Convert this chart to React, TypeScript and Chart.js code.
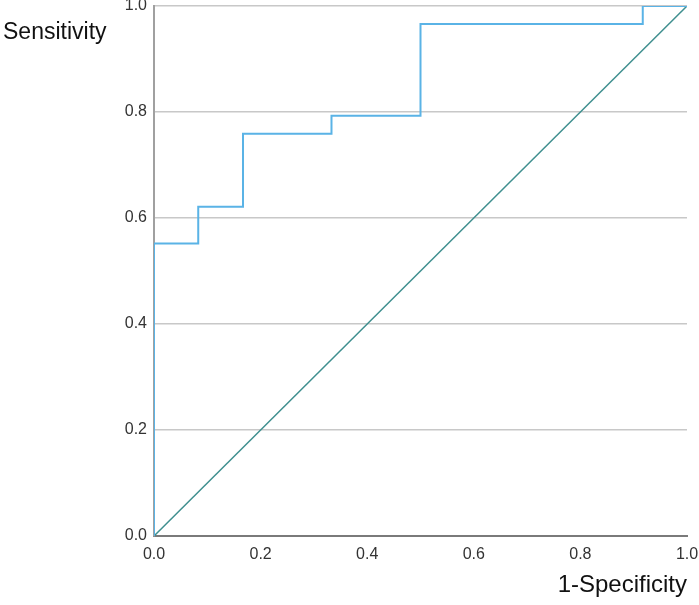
import { useEffect, useRef } from "react"
import { Chart, registerables } from "chart.js"

Chart.register(...registerables)

// ROC curve vertices (1-specificity, sensitivity)
const fpr = [0, 0, 0.083, 0.083, 0.167, 0.167, 0.333, 0.333, 0.5, 0.5, 0.917, 0.917, 1]
const tpr = [0, 0.552, 0.552, 0.621, 0.621, 0.759, 0.759, 0.793, 0.793, 0.966, 0.966, 1, 1]
// reference line
const refX = [0, 1]
const refY = [0, 1]
const tickValues = [0, 0.2, 0.4, 0.6, 0.8, 1.0]

const FONT = "'Liberation Sans', Arial, sans-serif"

const yTitlePlugin = {
  id: "yTitle",
  afterDraw(chart: Chart) {
    const ctx = chart.ctx
    ctx.save()
    ctx.font = `23px ${FONT}`
    ctx.fillStyle = "#111"
    ctx.textBaseline = "alphabetic"
    ctx.textAlign = "left"
    ctx.fillText("Sensitivity", 3, 39)
    ctx.restore()
  },
}

export default function App() {
  const chartRef = useRef<HTMLCanvasElement>(null)
  const chartInstance = useRef<Chart | null>(null)

  useEffect(() => {
    document.body.style.margin = "0"
    if (!chartRef.current) return
    if (chartInstance.current) chartInstance.current.destroy()
    const ctx = chartRef.current.getContext("2d")
    if (!ctx) return

    chartInstance.current = new Chart(ctx, {
      type: "line",
      data: {
        datasets: [
          {
            label: "ROC",
            data: fpr.map((x, i) => ({ x, y: tpr[i] })),
            borderColor: "#5ab3e6",
            borderWidth: 2,
            pointRadius: 0,
            fill: false,
            tension: 0,
          },
          {
            label: "Reference",
            data: refX.map((x, i) => ({ x, y: refY[i] })),
            borderColor: "#3f8f8f",
            borderWidth: 1.5,
            pointRadius: 0,
            fill: false,
          },
        ],
      },
      options: {
        responsive: true,
        maintainAspectRatio: false,
        animation: false,
        layout: { padding: { left: 0, right: 12, top: 6, bottom: 0 } },
        plugins: {
          legend: { display: false },
          tooltip: { enabled: false },
        },
        scales: {
          x: {
            type: "linear",
            min: 0,
            max: 1,
            afterBuildTicks: (scale) => {
              scale.ticks = tickValues.map((value) => ({ value }))
            },
            afterFit: (scale) => {
              scale.height = 69
              scale.paddingLeft = 0
              scale.paddingRight = 0
            },
            ticks: {
              color: "#333",
              font: { family: FONT, size: 16 },
              padding: 9,
              maxRotation: 0,
              callback: (v) => Number(v).toFixed(1),
            },
            grid: { display: false, drawTicks: false },
            border: { display: true, color: "#7a7a7a", width: 2 },
            title: {
              display: true,
              text: "1-Specificity",
              align: "end",
              color: "#111",
              font: { family: FONT, size: 24 },
              padding: { top: 0, bottom: 5 },
            },
          },
          y: {
            type: "linear",
            min: 0,
            max: 1,
            afterBuildTicks: (scale) => {
              scale.ticks = tickValues.map((value) => ({ value }))
            },
            afterFit: (scale) => {
              scale.width = 154
              scale.paddingTop = 0
              scale.paddingBottom = 0
            },
            ticks: {
              color: "#333",
              font: { family: FONT, size: 16 },
              padding: 7,
              callback: (v) => Number(v).toFixed(1),
            },
            grid: { color: "#c8c8c8", lineWidth: 1.5, drawTicks: false },
            border: { display: true, color: "#a0a0a0", width: 2 },
          },
        },
      },
      plugins: [yTitlePlugin],
    })

    return () => {
      if (chartInstance.current) {
        chartInstance.current.destroy()
        chartInstance.current = null
      }
    }
  }, [])

  return (
    <div style={{ width: 699, height: 605, position: "relative" }}>
      <canvas ref={chartRef} />
    </div>
  )
}
